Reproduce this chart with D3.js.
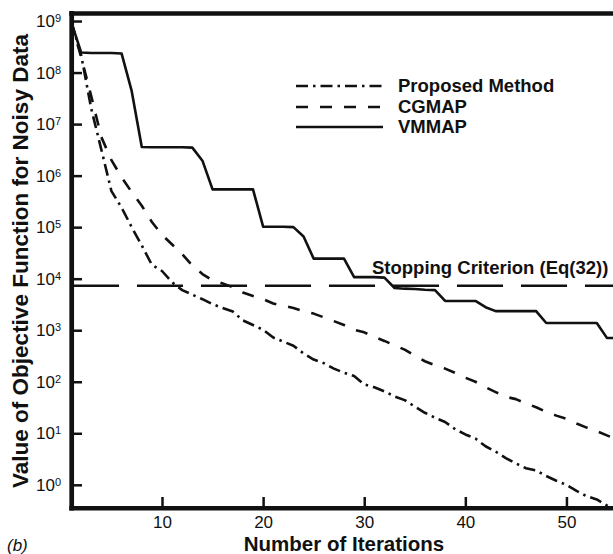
<!DOCTYPE html>
<html><head><meta charset="utf-8">
<script src="https://cdn.jsdelivr.net/npm/d3@7"></script>
<style>
body{margin:0;background:#fff}
svg{display:block;background:#fff}
text{font-family:"Liberation Sans",Arial,Helvetica,sans-serif;fill:#111}
</style>
</head><body>
<svg id="c" width="613" height="554"></svg>
<script>
// ---- data ----
const iterations = [1,2,3,4,5,6,7,8,9,10,11,12,13,14,15,16,17,18,19,20,21,22,23,24,25,26,27,28,29,30,
  31,32,33,34,35,36,37,38,39,40,41,42,43,44,45,46,47,48,49,50,51,52,53,54,55];
const proposed = [1e9,2.2e8,2.0e7,3.2e6,5.0e5,2.4e5,1.0e5,4.4e4,1.86e4,1.41e4,
  8.5e3,6.0e3,4.9e3,4.0e3,3.2e3,2.7e3,2.3e3,1.55e3,1.26e3,1.02e3,
  720,600,500,355,270,230,180,150,129,89,
  78,65,52,44,33,25,20,16.6,12,9.5,
  7.9,5.6,4.4,3.3,2.6,2.1,1.9,1.48,1.2,1.0,
  0.76,0.6,0.52,0.4,0.32];
const cgmap = [1e9,2.0e8,3.5e7,5.6e6,2.0e6,9.3e5,4.8e5,2.6e5,1.26e5,7.1e4,
  4.6e4,3.0e4,1.8e4,1.23e4,9.3e3,8.1e3,6.8e3,5.4e3,4.6e3,4.0e3,
  3.3e3,3.0e3,2.7e3,2.35e3,2.1e3,1.78e3,1.5e3,1.26e3,1.02e3,910,
  740,620,510,420,320,250,210,180,148,120,
  100,78,63,51,46,38,32,26,22,19,
  15.5,12.9,11,9.1,7.6];
const vmmap = [1e9,2.45e8,2.4e8,2.4e8,2.4e8,2.35e8,4.4e7,3.6e6,3.55e6,3.55e6,
  3.55e6,3.55e6,3.5e6,1.95e6,5.4e5,5.4e5,5.4e5,5.4e5,5.4e5,1.02e5,
  1.02e5,1.02e5,1.0e5,6.6e4,2.45e4,2.45e4,2.45e4,2.45e4,1.07e4,1.07e4,
  1.07e4,1.05e4,6.6e3,6.4e3,6.3e3,6.1e3,6.0e3,3.7e3,3.7e3,3.7e3,
  3.7e3,2.8e3,2.35e3,2.35e3,2.35e3,2.35e3,2.35e3,1.38e3,1.38e3,1.38e3,
  1.38e3,1.38e3,1.38e3,710,700];
const stoppingValue = 7.3e3;
const seriesNames = ["Proposed Method","CGMAP","VMMAP"];
const xTickValues = [10,20,30,40,50];
const yTickExponents = [0,1,2,3,4,5,6,7,8,9];
const stoppingLabel = "Stopping Criterion (Eq(32))";
const xTitle = "Number of Iterations";
const yTitle = "Value of Objective Function for Noisy Data";
const panelLabel = "(b)";

// ---- chart ----
const svg = d3.select("#c");
const ink = "#111";
const x = d3.scaleLinear().domain([1,55]).range([71,617]);
const y = d3.scaleLog().domain([Math.pow(10,-0.45), Math.pow(10,9.15)]).range([508,13.3]);

svg.append("defs").append("clipPath").attr("id","clip")
  .append("rect").attr("x",71).attr("y",13).attr("width",560).attr("height",495);

// axes
const xAxis = d3.axisBottom(x).tickValues(xTickValues).tickSizeInner(-11).tickSizeOuter(0).tickPadding(8);
const gx = svg.append("g").attr("transform","translate(0,508)").call(xAxis);
gx.select(".domain").remove();
gx.selectAll(".tick line").attr("stroke",ink).attr("stroke-width",2.5);
gx.selectAll(".tick text").attr("font-size","17px").attr("fill",ink);

const yAxis = d3.axisLeft(y).tickValues(yTickExponents.map(e=>Math.pow(10,e)))
  .tickSizeInner(-11).tickSizeOuter(0).tickPadding(10).tickFormat(()=> "10");
const gy = svg.append("g").attr("transform","translate(71,0)").call(yAxis);
gy.select(".domain").remove();
gy.selectAll(".tick line").attr("stroke",ink).attr("stroke-width",2.5);
gy.selectAll(".tick text").attr("font-size","17px").attr("fill",ink)
  .each(function(d,i){
    d3.select(this).append("tspan").attr("dy","-0.45em").attr("font-size","11px")
      .text(yTickExponents[i]);
  });

// spines
svg.append("line").attr("x1",71.7).attr("x2",71.7).attr("y1",11).attr("y2",510.6)
  .attr("stroke",ink).attr("stroke-width",4.7);
svg.append("line").attr("x1",69.3).attr("x2",613).attr("y1",13.5).attr("y2",13.5)
  .attr("stroke",ink).attr("stroke-width",4.5);
svg.append("line").attr("x1",69.3).attr("x2",613).attr("y1",508.3).attr("y2",508.3)
  .attr("stroke",ink).attr("stroke-width",4.5);

// stopping criterion
svg.append("line").attr("x1",x(1)+2).attr("x2",613)
  .attr("y1",y(stoppingValue)).attr("y2",y(stoppingValue))
  .attr("stroke",ink).attr("stroke-width",2.6).attr("stroke-dasharray","46,18");
svg.append("text").attr("x",372).attr("y",y(stoppingValue)-11.5)
  .attr("font-size","18.5px").attr("font-weight","bold").text(stoppingLabel);

// series
const dashes = ["12,5,2.5,5","12,12",null];
const data = [proposed, cgmap, vmmap];
const line = d3.line().x((d,i)=>x(iterations[i])).y(d=>y(d));
const plot = svg.append("g").attr("clip-path","url(#clip)");
data.forEach((s,k)=>{
  plot.append("path").datum(s).attr("d",line).attr("fill","none")
    .attr("stroke",ink).attr("stroke-width",2.6).attr("stroke-linejoin","round")
    .attr("stroke-dasharray",dashes[k]);
});

// legend
const legY = [86,107,127];
seriesNames.forEach((n,k)=>{
  svg.append("line").attr("x1",296).attr("x2",383).attr("y1",legY[k]).attr("y2",legY[k])
    .attr("stroke",ink).attr("stroke-width",2.6).attr("stroke-dasharray",dashes[k]);
  svg.append("text").attr("x",398).attr("y",legY[k]).attr("dy","0.35em")
    .attr("font-size","18.5px").attr("font-weight","bold").text(n);
});

// titles
svg.append("text").attr("x",344).attr("y",550.5).attr("text-anchor","middle")
  .attr("font-size","20.5px").attr("font-weight","bold").text(xTitle);
svg.append("text").attr("transform","translate(19.5,261) rotate(-90)")
  .attr("text-anchor","middle").attr("dy","0.36em")
  .attr("font-size","22.5px").attr("font-weight","bold").text(yTitle);
svg.append("text").attr("x",7).attr("y",551).attr("font-size","17px")
  .attr("font-style","italic").text(panelLabel);
</script>
</body></html>
